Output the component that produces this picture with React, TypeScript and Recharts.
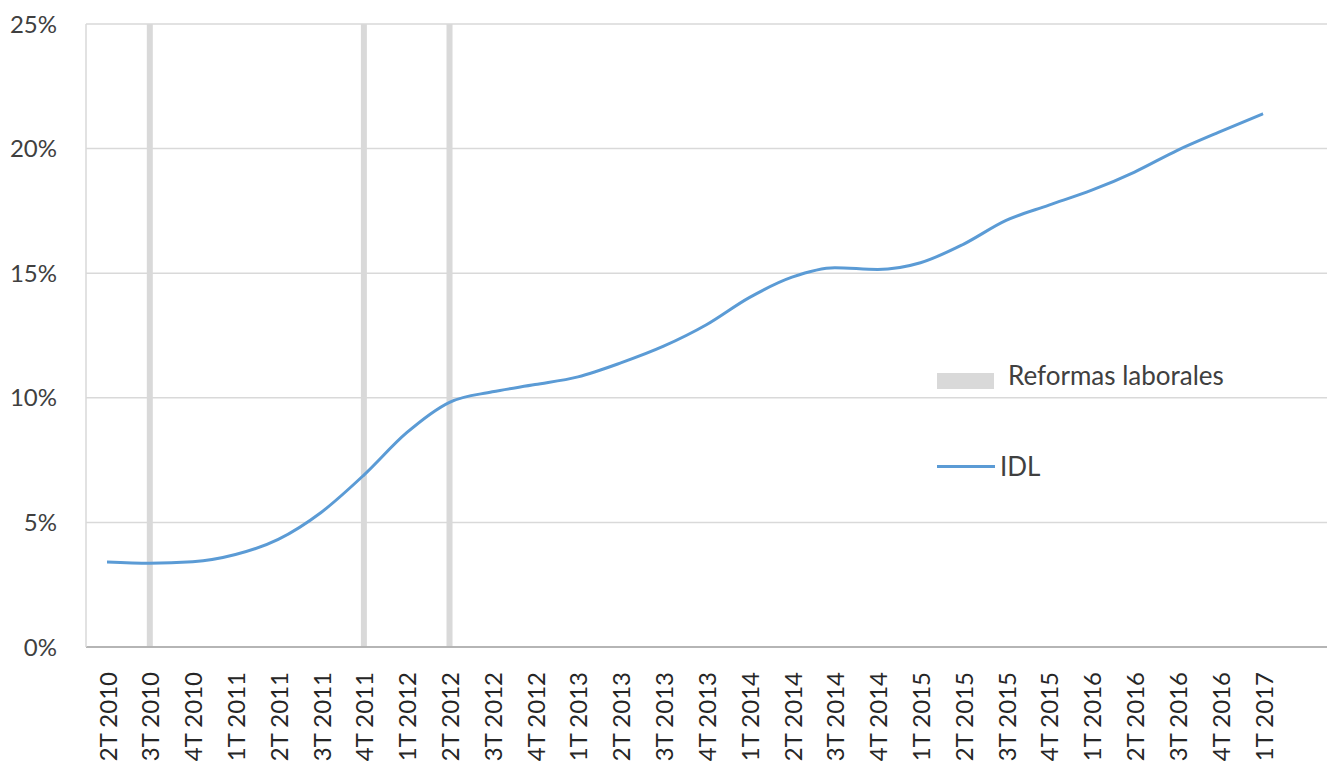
import {
  CartesianGrid,
  Line,
  LineChart,
  ReferenceLine,
  XAxis,
  YAxis,
} from "recharts";

// 四半期ラベル（2T 2010 〜 1T 2017）
const quarters = [
  "2T 2010", "3T 2010", "4T 2010",
  "1T 2011", "2T 2011", "3T 2011", "4T 2011",
  "1T 2012", "2T 2012", "3T 2012", "4T 2012",
  "1T 2013", "2T 2013", "3T 2013", "4T 2013",
  "1T 2014", "2T 2014", "3T 2014", "4T 2014",
  "1T 2015", "2T 2015", "3T 2015", "4T 2015",
  "1T 2016", "2T 2016", "3T 2016", "4T 2016",
  "1T 2017",
];

// IDL (%)
const idl = [
  3.41, 3.36, 3.42,
  3.71, 4.32, 5.4, 6.9,
  8.6, 9.82, 10.24, 10.53,
  10.84, 11.4, 12.07, 12.93,
  14.02, 14.84, 15.22, 15.15,
  15.42, 16.16, 17.12, 17.73,
  18.33, 19.06, 19.93, 20.68,
  21.4,
];

// 労働改革の時期
const reformas = ["3T 2010", "4T 2011", "2T 2012"];

const yTicks = [0, 5, 10, 15, 20, 25];

const rows = quarters.map((q, i) => ({ q, idl: idl[i] }));

const FONT = "Lato, 'Open Sans', sans-serif";
const BLUE = "#5b9bd5";
const GREY = "#d9d9d9";

function QuarterTick(props: any) {
  const { x, y, payload } = props;
  const ty = y + 17;
  return (
    <text
      x={x}
      y={ty}
      transform={`rotate(-90, ${x}, ${ty})`}
      textAnchor="end"
      dominantBaseline="central"
      fontSize={24}
      fontFamily={FONT}
      fill="#262626"
    >
      {payload.value}
    </text>
  );
}

// 凡例はチャートのレイアウトに影響させないよう外に重ねる
function LegendBox() {
  return (
    <div style={{ position: "absolute", left: 937, top: 373, fontFamily: FONT, fontSize: 26, color: "#404040" }}>
      <div style={{ position: "absolute", left: 0, top: 0, width: 57, height: 16, background: GREY }} />
      <div style={{ position: "absolute", left: 71, top: -15, whiteSpace: "nowrap", lineHeight: "34px" }}>
        Reformas laborales
      </div>
      <div style={{ position: "absolute", left: 0, top: 92, width: 58, height: 3, background: BLUE }} />
      <div style={{ position: "absolute", left: 63, top: 76, whiteSpace: "nowrap", lineHeight: "34px" }}>
        IDL
      </div>
    </div>
  );
}

export default function App() {
  return (
    <div style={{ position: "absolute", left: 0, top: 0, width: 1328, height: 762, background: "#fff" }}>
      <LineChart
        width={1328}
        height={762}
        data={rows}
        margin={{ top: 24, right: 1, bottom: 0, left: 0 }}
      >
        <CartesianGrid vertical={false} stroke={GREY} strokeWidth={1.5} />
        <XAxis
          dataKey="q"
          interval={0}
          height={115}
          padding={{ left: 21, right: 64 }}
          tickLine={false}
          axisLine={{ stroke: "#a6a6a6", strokeWidth: 1.5 }}
          tick={<QuarterTick />}
        />
        <YAxis
          width={86}
          domain={[0, 25]}
          ticks={yTicks}
          tickFormatter={(v: number) => `${v}%`}
          tickLine={false}
          tickSize={0}
          tickMargin={29}
          axisLine={{ stroke: GREY, strokeWidth: 1.5 }}
          tick={{ fontSize: 24, fontFamily: FONT, fill: "#404040" }}
        />
        <YAxis
          yAxisId="border"
          orientation="right"
          width={0}
          tick={false}
          tickLine={false}
          axisLine={{ stroke: "#bfbfbf", strokeWidth: 1.5 }}
        />
        {reformas.map((r) => (
          <ReferenceLine key={r} x={r} stroke={GREY} strokeWidth={6} />
        ))}
        <Line
          type="monotone"
          dataKey="idl"
          stroke={BLUE}
          strokeWidth={3}
          dot={false}
          isAnimationActive={false}
          name="IDL"
        />
      </LineChart>
      <LegendBox />
    </div>
  );
}
